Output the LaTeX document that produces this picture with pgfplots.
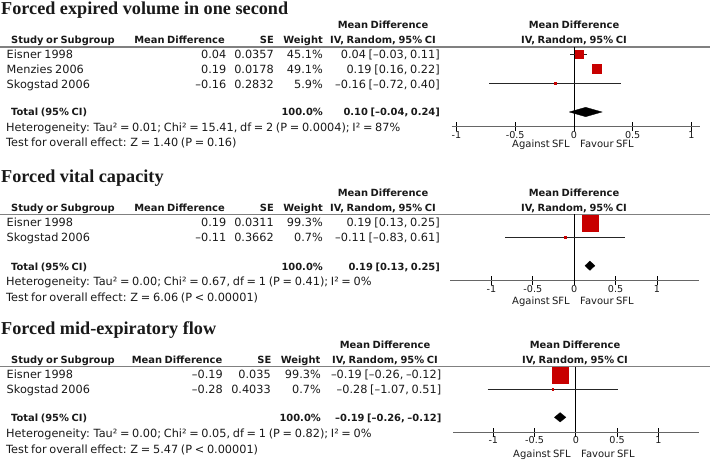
\documentclass[border=0pt]{standalone}
\usepackage{fontspec}
\setmainfont{DejaVu Sans}[WordSpace=0.75]
\newfontfamily\titlefont{Liberation Serif}
\usepackage{pgfplots}
\pgfplotsset{compat=1.18}
\definecolor{sqred}{RGB}{200,0,0}
\definecolor{txt}{RGB}{25,25,25}
\newcommand\tf{\fontsize{11.3}{13}\selectfont}
\newcommand\af{\fontsize{10}{12}\selectfont}
\newcommand\kf{\fontsize{9.6}{11}\selectfont}
\newcommand\hb{\fontsize{9.9}{12}\selectfont\bfseries}
\newcommand\ttl{\titlefont\bfseries\fontsize{18.2}{21}\selectfont}
\pgfplotsset{
  forest/.style={
    scale only axis, anchor=south west, clip=false,
    axis y line=none, axis x line*=bottom,
    xtick={-1,-0.5,0,0.5,1},
    xticklabels={-1,-0.5,0,0.5,1},
    xtick align=center, major tick length=9pt,
    tick style={black, line width=0.7pt},
    axis line style={draw=black!60, line width=1.4pt},
    xticklabel style={font=\kf, text=txt, anchor=base, yshift=-7pt, inner sep=0pt},
  },
  ci/.style={black!85, line width=0.6pt},
  zero/.style={black, line width=0.8pt},
  sq/.style={only marks, mark=square*, mark options={draw=sqred, fill=sqred, line width=0.2pt}},
  dia/.style={fill=black, draw=black, line width=0.3pt},
}
\begin{document}
\begin{tikzpicture}
\path[use as bounding box] (0,0) rectangle (710pt,-461pt);
\begin{scope}[x=1pt,y=-1pt, every node/.style={inner sep=0pt, text=txt},
  tl/.style={anchor=base west, font=\tf}, tr/.style={anchor=base east, font=\tf},
  bl/.style={anchor=base west, font=\hb}, br/.style={anchor=base east, font=\hb},
  bc/.style={anchor=base, font=\hb}]
% ---------- Panel 1 ----------
\node[anchor=base west] at (1,14) {\ttl Forced expired volume in one second};
\node[bc] at (383,28.5) {Mean Difference};
\node[bc] at (574,28.5) {Mean Difference};
\node[bl] at (11,43) {Study or Subgroup};
\node[br] at (225,43) {Mean Difference};
\node[br] at (274,43) {SE};
\node[br] at (323,43) {Weight};
\node[bc] at (383,43) {IV, Random, 95\% CI};
\node[bc] at (574,43) {IV, Random, 95\% CI};
\draw[black!50, line width=1.1pt] (0,47) -- (710,47);
\node[tl] at (6.5,58.5) {Eisner 1998};
\node[tr] at (226.5,58.5) {0.04};
\node[tr] at (274,58.5) {0.0357};
\node[tr] at (323,58.5) {45.1\%};
\node[tr] at (440,58.5) {0.04 [–0.03, 0.11]};
\node[tl] at (6.5,73.5) {Menzies 2006};
\node[tr] at (226.5,73.5) {0.19};
\node[tr] at (274,73.5) {0.0178};
\node[tr] at (323,73.5) {49.1\%};
\node[tr] at (440,73.5) {0.19 [0.16, 0.22]};
\node[tl] at (6.5,88.5) {Skogstad 2006};
\node[tr] at (226.5,88.5) {–0.16};
\node[tr] at (274,88.5) {0.2832};
\node[tr] at (323,88.5) {5.9\%};
\node[tr] at (440,88.5) {–0.16 [–0.72, 0.40]};
\node[bl] at (11,115) {Total (95\% CI)};
\node[br] at (323,115) {100.0\%};
\node[br] at (440,115) {0.10 [–0.04, 0.24]};
\node[tl] at (6,131) {Heterogeneity: Tau² = 0.01; Chi² = 15.41, df = 2 (P = 0.0004); I² = 87\%};
\node[tl] at (6,146.5) {Test for overall effect: Z = 1.40 (P = 0.16)};
\node[anchor=base east, font=\af] at (570,147.8) {Against SFL};
\node[anchor=base west, font=\af] at (580,147.8) {Favour SFL};
% ---------- Panel 2 ----------
\node[anchor=base west] at (1,182.3) {\ttl Forced vital capacity};
\node[bc] at (383,196.5) {Mean Difference};
\node[bc] at (574,196.5) {Mean Difference};
\node[bl] at (11,211) {Study or Subgroup};
\node[br] at (225,211) {Mean Difference};
\node[br] at (274,211) {SE};
\node[br] at (323,211) {Weight};
\node[bc] at (383,211) {IV, Random, 95\% CI};
\node[bc] at (574,211) {IV, Random, 95\% CI};
\draw[black!50, line width=1.1pt] (0,214.3) -- (710,214.3);
\node[tl] at (6.5,226.5) {Eisner 1998};
\node[tr] at (226.5,226.5) {0.19};
\node[tr] at (274,226.5) {0.0311};
\node[tr] at (323,226.5) {99.3\%};
\node[tr] at (440,226.5) {0.19 [0.13, 0.25]};
\node[tl] at (6.5,241.5) {Skogstad 2006};
\node[tr] at (226.5,241.5) {–0.11};
\node[tr] at (274,241.5) {0.3662};
\node[tr] at (323,241.5) {0.7\%};
\node[tr] at (440,241.5) {–0.11 [–0.83, 0.61]};
\node[bl] at (11,270) {Total (95\% CI)};
\node[br] at (323,270) {100.0\%};
\node[br] at (440,270) {0.19 [0.13, 0.25]};
\node[tl] at (6,285.5) {Heterogeneity: Tau² = 0.00; Chi² = 0.67, df = 1 (P = 0.41); I² = 0\%};
\node[tl] at (6,301) {Test for overall effect: Z = 6.06 (P < 0.00001)};
\node[anchor=base east, font=\af] at (570,304.5) {Against SFL};
\node[anchor=base west, font=\af] at (580,304.5) {Favour SFL};
% ---------- Panel 3 ----------
\node[anchor=base west] at (1,334) {\ttl Forced mid-expiratory flow};
\node[bc] at (385,348.3) {Mean Difference};
\node[bc] at (575,348.3) {Mean Difference};
\node[bl] at (11,363) {Study or Subgroup};
\node[br] at (222.5,363) {Mean Difference};
\node[br] at (271.5,363) {SE};
\node[br] at (320.5,363) {Weight};
\node[bc] at (385,363) {IV, Random, 95\% CI};
\node[bc] at (575,363) {IV, Random, 95\% CI};
\draw[black!50, line width=1.1pt] (0,366.7) -- (710,366.7);
\node[tl] at (6.5,378.3) {Eisner 1998};
\node[tr] at (223,378.3) {–0.19};
\node[tr] at (271,378.3) {0.035};
\node[tr] at (321,378.3) {99.3\%};
\node[tr] at (441.5,378.3) {–0.19 [–0.26, –0.12]};
\node[tl] at (6.5,393.5) {Skogstad 2006};
\node[tr] at (223,393.5) {–0.28};
\node[tr] at (271,393.5) {0.4033};
\node[tr] at (321,393.5) {0.7\%};
\node[tr] at (441.5,393.5) {–0.28 [–1.07, 0.51]};
\node[bl] at (11,421.7) {Total (95\% CI)};
\node[br] at (321,421.7) {100.0\%};
\node[br] at (441.5,421.7) {–0.19 [–0.26, –0.12]};
\node[tl] at (6,437.5) {Heterogeneity: Tau² = 0.00; Chi² = 0.05, df = 1 (P = 0.82); I² = 0\%};
\node[tl] at (6,453) {Test for overall effect: Z = 5.47 (P < 0.00001)};
\node[anchor=base east, font=\af] at (571,457.5) {Against SFL};
\node[anchor=base west, font=\af] at (581,457.5) {Favour SFL};
\end{scope}

% ---------- Forest 1 ----------
\begin{axis}[forest, at={(451.7pt,-126.5pt)}, width=248.3pt, height=79.5pt,
  xmin=-1.04, xmax=1.073, ymin=-126.5, ymax=-47]
\addplot[zero] coordinates {(0,-47) (0,-126.5)};
\addplot[ci] coordinates {(-0.03,-54.5) (0.11,-54.5)};
\addplot[ci] coordinates {(0.16,-69) (0.22,-69)};
\addplot[ci] coordinates {(-0.72,-83.5) (0.40,-83.5)};
\addplot[sq, mark size=4.0pt] coordinates {(0.04,-54.5)};
\addplot[sq, mark size=4.6pt] coordinates {(0.19,-69)};
\addplot[sq, mark size=1.0pt] coordinates {(-0.16,-83.5)};
\addplot[dia] coordinates {(-0.04,-112) (0.10,-107.3) (0.24,-112) (0.10,-116.7) (-0.04,-112)};
\end{axis}

% ---------- Forest 2 ----------
\begin{axis}[forest, at={(450pt,-280.7pt)}, width=249.3pt, height=66.4pt,
  xmin=-1.5, xmax=1.511, ymin=-280.7, ymax=-214.3]
\addplot[zero] coordinates {(0,-214.3) (0,-280.7)};
\addplot[ci] coordinates {(0.13,-222.8) (0.25,-222.8)};
\addplot[ci] coordinates {(-0.83,-237.3) (0.61,-237.3)};
\addplot[sq, mark size=8pt] coordinates {(0.19,-222.8)};
\addplot[sq, mark size=0.8pt] coordinates {(-0.11,-237.3)};
\addplot[dia] coordinates {(0.13,-265.7) (0.19,-261) (0.25,-265.7) (0.19,-270.4) (0.13,-265.7)};
\end{axis}

% ---------- Forest 3 ----------
\begin{axis}[forest, at={(453.3pt,-432.3pt)}, width=245.6pt, height=65.6pt,
  xmin=-1.485, xmax=1.492, ymin=-432.3, ymax=-366.7]
\addplot[zero] coordinates {(0,-366.7) (0,-432.3)};
\addplot[ci] coordinates {(-0.26,-375) (-0.12,-375)};
\addplot[ci] coordinates {(-1.07,-389) (0.51,-389)};
\addplot[sq, mark size=8pt] coordinates {(-0.19,-375)};
\addplot[sq, mark size=0.7pt] coordinates {(-0.28,-389)};
\addplot[dia] coordinates {(-0.26,-417.3) (-0.19,-412.6) (-0.12,-417.3) (-0.19,-422) (-0.26,-417.3)};
\end{axis}
\end{tikzpicture}
\end{document}
